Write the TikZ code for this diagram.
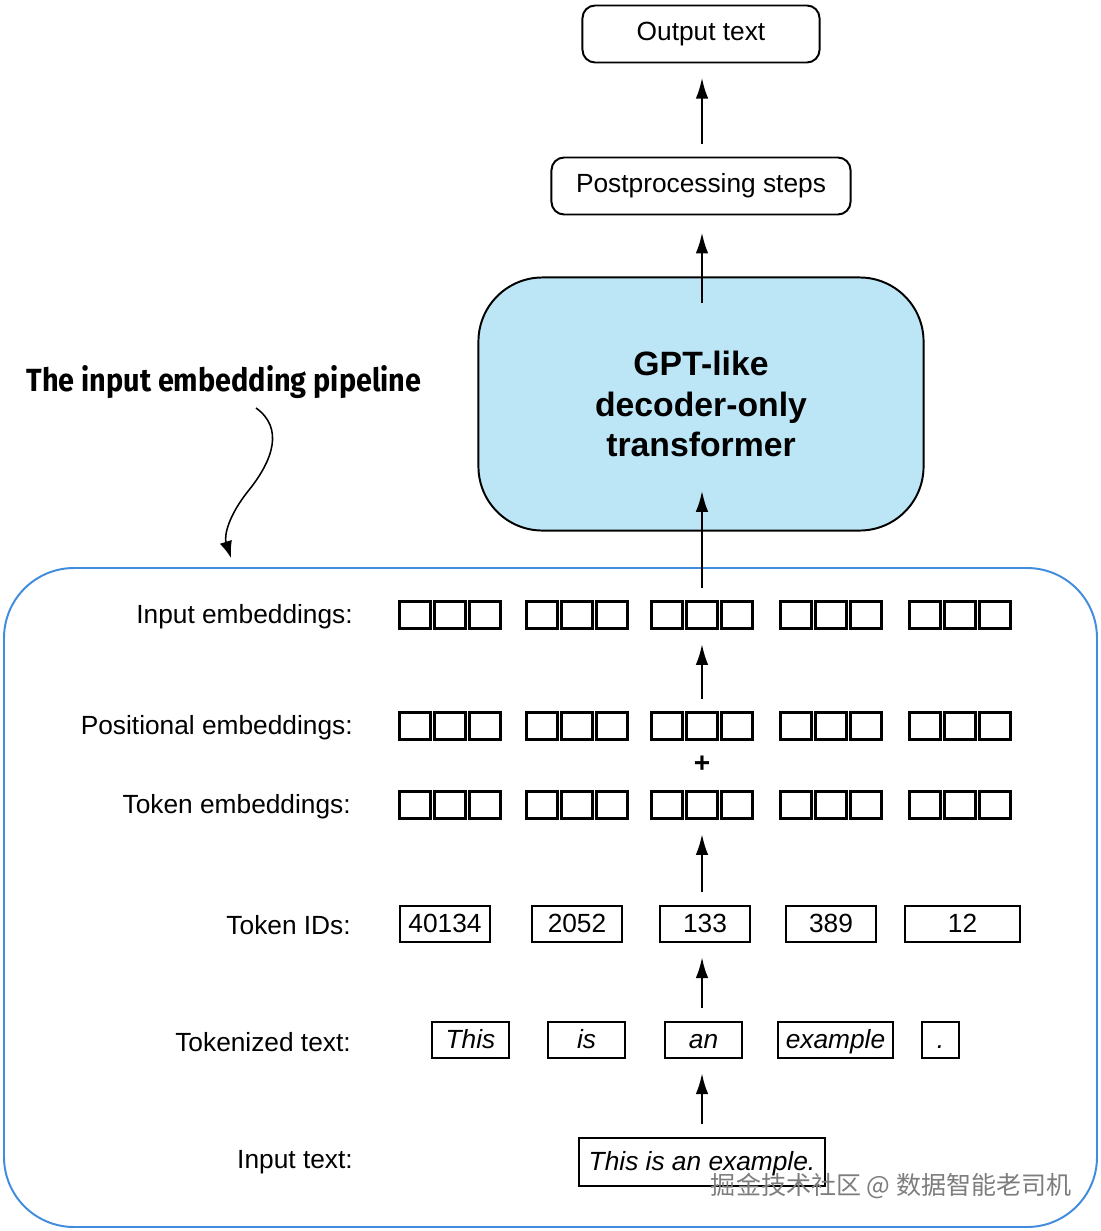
\documentclass[tikz,border=0pt]{standalone}
\usepackage{fontspec}
\setmainfont{Liberation Sans}
\newfontfamily\headfont[FakeStretch=0.9]{Fira Sans}
\newfontfamily\cjkfont{Noto Sans CJK SC}
\usetikzlibrary{arrows.meta}
\usetikzlibrary{positioning}

\definecolor{gptblue}{RGB}{188,230,245}
\definecolor{pipeblue}{RGB}{66,140,222}
\definecolor{markgray}{RGB}{125,125,125}

\begin{document}
\begin{tikzpicture}[x=0.025cm, y=-0.025cm,
		font=\fontsize{18.7}{22}\selectfont,
		roundbox/.style={draw, line width=1.4pt, rounded corners=9pt, inner sep=0pt, minimum height=1.425cm},
		cell/.style={draw, line width=1.7pt, minimum width=0.77cm, minimum height=0.68cm, inner sep=0pt},
		idbox/.style={draw, line width=1.4pt, minimum height=0.9cm, inner sep=0pt, text height=13pt, text depth=1pt},
		wordbox/.style={idbox, font=\fontsize{18.7}{22}\selectfont\itshape},
		rowlabel/.style={anchor=east, inner sep=0pt},
		flow/.style={-{Latex[length=15pt, width=9pt]}, line width=1.8pt, shorten <=9pt, shorten >=10pt},
	]
	\useasboundingbox (0, 0) rectangle (1100, 1231);

	% pipeline frame and heading
	\draw[pipeblue, line width=1.4pt, rounded corners=1.75cm] (4, 568) rectangle (1097, 1227);
	\node[font=\fontsize{22.8}{27}\selectfont\headfont\bfseries] (head) at (224, 382) {The input embedding pipeline};
	\coordinate (headtip) at (231, 558);
	\draw[line width=1.1pt, -{Latex[length=12pt, width=9pt]}] (256, 408) .. controls (284, 428) and (273, 460) .. (249, 490) .. controls (228, 516) and (224, 536) .. (headtip);

	% top part
	\node[roundbox, minimum width=5.925cm] (out) at (701, 34) {Output text};
	\node[roundbox, minimum width=7.475cm] (post) at (701, 186) {Postprocessing steps};
	\node[draw, line width=1.4pt, fill=gptblue, rounded corners=1.6cm, minimum width=11.125cm, minimum height=6.325cm,
		align=center, font=\fontsize{24}{28.5}\selectfont\bfseries] (gpt) at (701, 404) {GPT-like\\decoder-only\\transformer};

	% row labels
	\node[rowlabel] (l-inp) at (353, 617) {Input embeddings:};
	\node[rowlabel] (l-pos) at (353, 728) {Positional embeddings:};
	\node[rowlabel] (l-tok) at (351, 807) {Token embeddings:};
	\node[rowlabel] (l-id) at (351, 925) {Token IDs:};
	\node[rowlabel] (l-word) at (351, 1042) {Tokenized text:};
	\node[rowlabel] (l-text) at (353, 1162) {Input text:};

	% embedding vectors
	\foreach \row/\yy in {inp/615, pos/726, tok/805} {
			\foreach \g/\xx in {1/450, 2/577, 3/702, 4/831, 5/960} {
					\node[cell] (\row-\g-1) at (\xx-35, \yy) {};
					\node[cell] (\row-\g-2) at (\xx, \yy) {};
					\node[cell] (\row-\g-3) at (\xx+35, \yy) {};
				}
		}
	\node[font=\fontsize{20}{24}\selectfont\bfseries] (plus) at (702, 764) {+};

	% token ids
	\node[idbox, minimum width=2.25cm] (id-1) at (445, 924) {40134};
	\node[idbox, minimum width=2.25cm] (id-2) at (577, 924) {2052};
	\node[idbox, minimum width=2.25cm] (id-3) at (705, 924) {133};
	\node[idbox, minimum width=2.25cm] (id-4) at (831, 924) {389};
	\node[idbox, minimum width=2.875cm] (id-5) at (962.5, 924) {12};

	% tokens
	\node[wordbox, minimum width=1.925cm] (word-1) at (470.5, 1040) {This};
	\node[wordbox, minimum width=1.925cm] (word-2) at (586.5, 1040) {is};
	\node[wordbox, minimum width=1.925cm] (word-3) at (703.5, 1040) {an};
	\node[wordbox, minimum width=2.875cm] (word-4) at (835.5, 1040) {example};
	\node[wordbox, minimum width=0.925cm] (word-5) at (940.5, 1040) {.};

	\node[wordbox, minimum width=6.15cm, minimum height=1.2cm] (text) at (702, 1162) {This is an example.};

	% arrows
	\draw[flow] (text.north -| 702, 0) -- (word-3.south -| 702, 0);
	\draw[flow] (word-3.north -| 702, 0) -- (id-3.south -| 702, 0);
	\draw[flow] (id-3.north -| 702, 0) -- (tok-3-2.south -| 702, 0);
	\draw[flow] (pos-3-2.north -| 702, 0) -- (inp-3-2.south -| 702, 0);
	\draw[flow, shorten >=-29pt] (inp-3-2.north -| 702, 0) -- (gpt.south -| 702, 0);
	\draw[flow, shorten <=-19pt, shorten >=12pt] (gpt.north -| 702, 0) -- (post.south -| 702, 0);
	\draw[flow] (post.north -| 702, 0) -- (out.south -| 702, 0);

	\node[markgray, font=\fontsize{17.8}{21}\selectfont\cjkfont, anchor=west] (mark) at (706, 1186) {掘金技术社区 @ 数据智能老司机};
\end{tikzpicture}
\end{document}
